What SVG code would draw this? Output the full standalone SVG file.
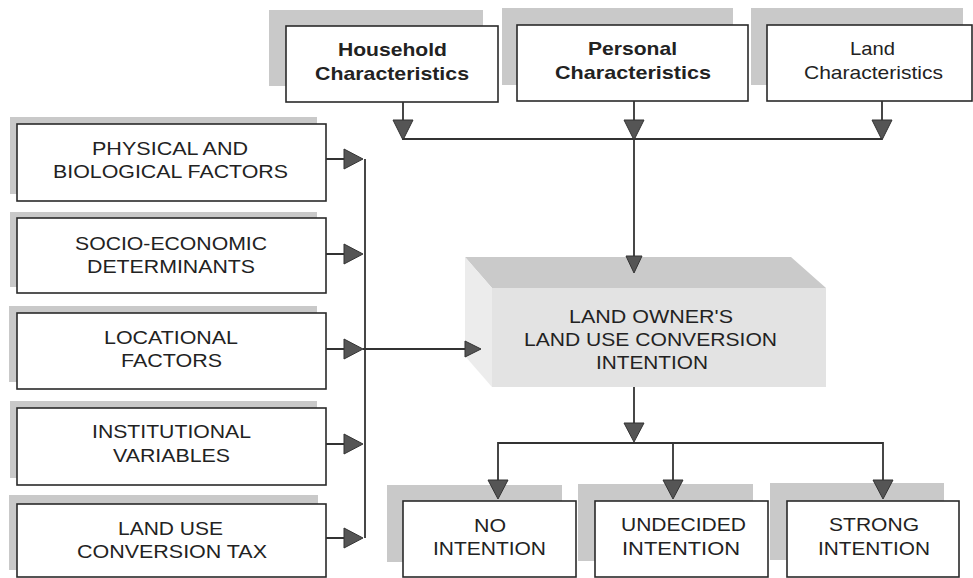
<svg xmlns="http://www.w3.org/2000/svg" width="973" height="578" viewBox="0 0 973 578">
<defs>
<style>
.sh{fill:#c9c9c9}
.bx{fill:#fff;stroke:#2a2a2a;stroke-width:1.6}
.t{font-family:"Liberation Sans",Arial,sans-serif;font-size:19px;fill:#222}
.b{font-weight:bold}
.ln{stroke:#333;stroke-width:1.8;fill:none}
.ah{fill:#555;stroke:#333;stroke-width:1}
</style>
</defs>
<rect width="973" height="578" fill="#fff"/>

<g id="household">
<rect class="sh" x="269" y="10" width="214" height="76"/>
<rect class="bx" x="286" y="26" width="212" height="76"/>
<text class="t b" x="338" y="56" textLength="109" lengthAdjust="spacingAndGlyphs">Household</text>
<text class="t b" x="315" y="80" textLength="154" lengthAdjust="spacingAndGlyphs">Characteristics</text>
</g>
<g id="personal">
<rect class="sh" x="502" y="8" width="231" height="77"/>
<rect class="bx" x="517" y="25" width="231" height="76"/>
<text class="t b" x="588" y="55" textLength="89" lengthAdjust="spacingAndGlyphs">Personal</text>
<text class="t b" x="555" y="79" textLength="156" lengthAdjust="spacingAndGlyphs">Characteristics</text>
</g>
<g id="land">
<rect class="sh" x="751" y="8" width="212" height="77"/>
<rect class="bx" x="767" y="25" width="205" height="76"/>
<text class="t" x="850" y="55" textLength="45" lengthAdjust="spacingAndGlyphs">Land</text>
<text class="t" x="804" y="79" textLength="139" lengthAdjust="spacingAndGlyphs">Characteristics</text>
</g>

<g id="physical">
<rect class="sh" x="10" y="117" width="307" height="77"/>
<rect class="bx" x="17" y="124" width="309" height="77"/>
<text class="t" x="92" y="155" textLength="156" lengthAdjust="spacingAndGlyphs">PHYSICAL AND</text>
<text class="t" x="53" y="178" textLength="235" lengthAdjust="spacingAndGlyphs">BIOLOGICAL FACTORS</text>
</g>
<g id="socio">
<rect class="sh" x="10" y="212" width="307" height="75"/>
<rect class="bx" x="17" y="218" width="309" height="75"/>
<text class="t" x="75" y="250" textLength="192" lengthAdjust="spacingAndGlyphs">SOCIO-ECONOMIC</text>
<text class="t" x="87" y="273" textLength="168" lengthAdjust="spacingAndGlyphs">DETERMINANTS</text>
</g>
<g id="locational">
<rect class="sh" x="9" y="306" width="308" height="76"/>
<rect class="bx" x="17" y="313" width="309" height="76"/>
<text class="t" x="104" y="344" textLength="134" lengthAdjust="spacingAndGlyphs">LOCATIONAL</text>
<text class="t" x="121" y="367" textLength="101" lengthAdjust="spacingAndGlyphs">FACTORS</text>
</g>
<g id="institutional">
<rect class="sh" x="10" y="401" width="307" height="77"/>
<rect class="bx" x="17" y="408" width="309" height="77"/>
<text class="t" x="92" y="438" textLength="159" lengthAdjust="spacingAndGlyphs">INSTITUTIONAL</text>
<text class="t" x="113" y="462" textLength="117" lengthAdjust="spacingAndGlyphs">VARIABLES</text>
</g>
<g id="tax">
<rect class="sh" x="9" y="495" width="309" height="75"/>
<rect class="bx" x="17" y="504" width="309" height="73"/>
<text class="t" x="118" y="535" textLength="105" lengthAdjust="spacingAndGlyphs">LAND USE</text>
<text class="t" x="77" y="558" textLength="190" lengthAdjust="spacingAndGlyphs">CONVERSION TAX</text>
</g>

<g id="intention">
<polygon points="465,257 791,257 826,288 492,288" fill="#cacaca"/>
<polygon points="465,257 492,288 492,387 465,356" fill="#ececec"/>
<rect x="492" y="288" width="334" height="99" fill="#e3e3e3"/>
<text class="t" x="569" y="323" textLength="164" lengthAdjust="spacingAndGlyphs">LAND OWNER'S</text>
<text class="t" x="524" y="346" textLength="253" lengthAdjust="spacingAndGlyphs">LAND USE CONVERSION</text>
<text class="t" x="596" y="369" textLength="112" lengthAdjust="spacingAndGlyphs">INTENTION</text>
</g>

<g id="no">
<rect class="sh" x="387" y="485" width="175" height="77"/>
<rect class="bx" x="403" y="501" width="173" height="76"/>
<text class="t" x="474" y="532" textLength="32" lengthAdjust="spacingAndGlyphs">NO</text>
<text class="t" x="433" y="555" textLength="113" lengthAdjust="spacingAndGlyphs">INTENTION</text>
</g>
<g id="undecided">
<rect class="sh" x="578" y="484" width="175" height="77"/>
<rect class="bx" x="595" y="501" width="173" height="76"/>
<text class="t" x="621" y="531" textLength="125" lengthAdjust="spacingAndGlyphs">UNDECIDED</text>
<text class="t" x="622" y="555" textLength="118" lengthAdjust="spacingAndGlyphs">INTENTION</text>
</g>
<g id="strong">
<rect class="sh" x="770" y="483" width="174" height="77"/>
<rect class="bx" x="787" y="501" width="172" height="76"/>
<text class="t" x="829" y="531" textLength="90" lengthAdjust="spacingAndGlyphs">STRONG</text>
<text class="t" x="818" y="555" textLength="112" lengthAdjust="spacingAndGlyphs">INTENTION</text>
</g>

<g id="connectors">
<path class="ln" d="M403,102 V139 H882 M634,101 V258 M882,101 V139"/>
<polygon class="ah" points="393,120 413,120 403,140"/>
<polygon class="ah" points="624,120 644,120 634,140"/>
<polygon class="ah" points="872,120 892,120 882,140"/>
<polygon class="ah" points="626,256 642,256 634,273"/>

<path class="ln" d="M326,159 H345 M326,254 H345 M326,349 H345 M326,444 H345 M326,538 H345 M365,159 V538 M363,349 H466"/>
<polygon class="ah" points="344,149 344,169 363,159"/>
<polygon class="ah" points="344,244 344,264 363,254"/>
<polygon class="ah" points="344,339 344,359 363,349"/>
<polygon class="ah" points="344,434 344,454 363,444"/>
<polygon class="ah" points="344,528 344,548 363,538"/>
<polygon class="ah" points="465,341 465,357 481,349"/>

<path class="ln" d="M634,387 V424 M498,481 V443 H883 V481 M673,443 V481"/>
<polygon class="ah" points="624,423 644,423 634,442"/>
<polygon class="ah" points="488,480 508,480 498,499"/>
<polygon class="ah" points="663,480 683,480 673,499"/>
<polygon class="ah" points="873,480 893,480 883,499"/>
</g>
</svg>
